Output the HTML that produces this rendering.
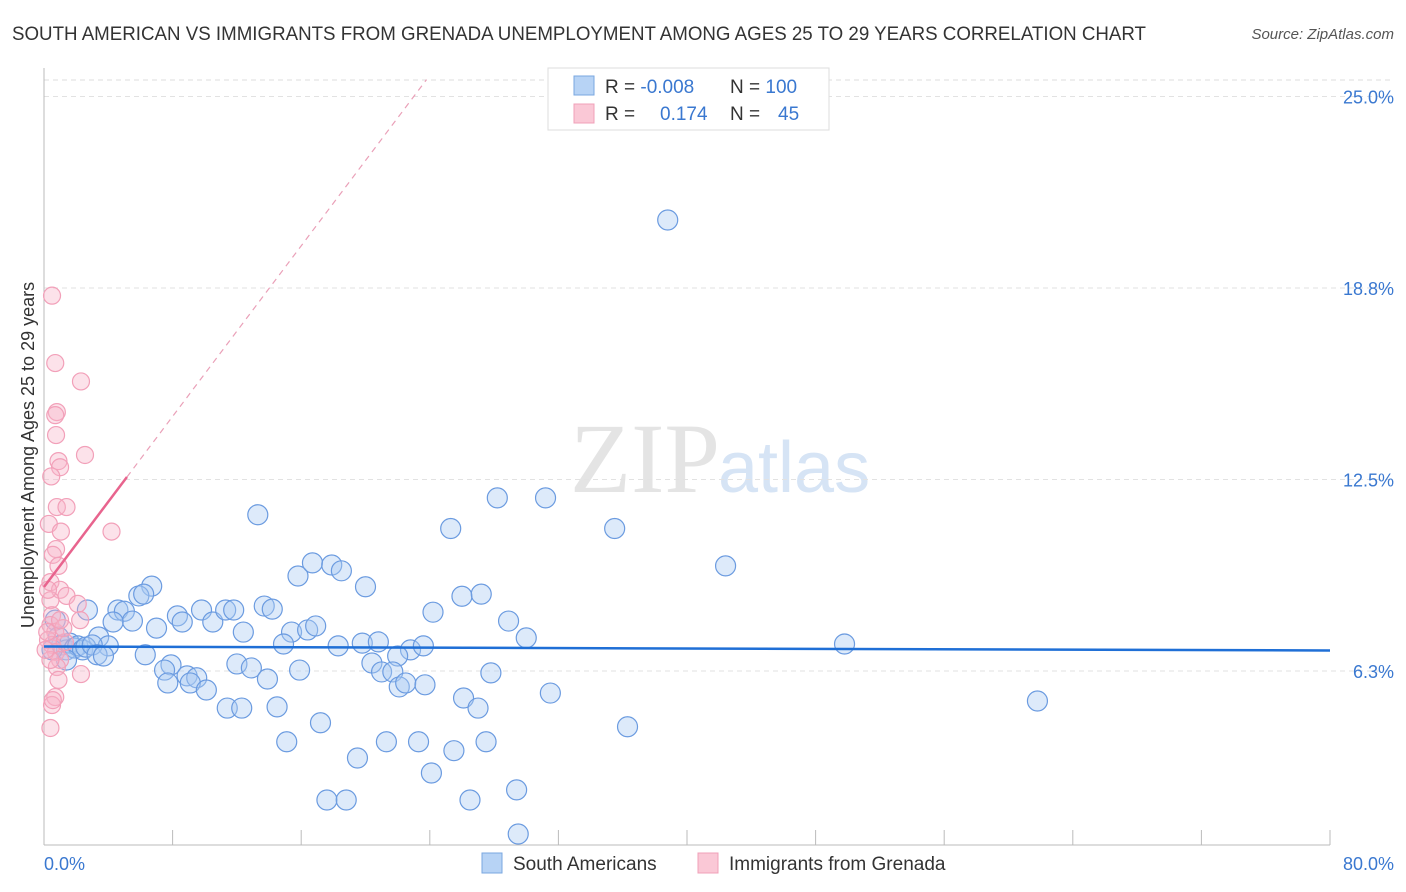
<!DOCTYPE html>
<html><head><meta charset="utf-8">
<style>
body{margin:0;background:#fff;font-family:"Liberation Sans",sans-serif;}
svg{display:block}
</style></head>
<body>
<svg id="chart" width="1406" height="892">
<text x="12" y="40" font-size="19" fill="#333" textLength="1134" lengthAdjust="spacingAndGlyphs">SOUTH AMERICAN VS IMMIGRANTS FROM GRENADA UNEMPLOYMENT AMONG AGES 25 TO 29 YEARS CORRELATION CHART</text>
<text x="1394" y="39" font-size="15" fill="#555" font-style="italic" text-anchor="end">Source: ZipAtlas.com</text>
<text x="720" y="492" font-size="100" fill="#e4e4e4" text-anchor="end" font-family="Liberation Serif">ZIP</text>
<text x="718" y="492" font-size="72" fill="#d6e4f5">atlas</text>
<g id="grid"></g>
<g id="axes"></g>
<g id="pts"></g>
<g id="trends"></g>
<text x="-455" y="34" transform="rotate(-90)" font-size="18" fill="#333" text-anchor="middle">Unemployment Among Ages 25 to 29 years</text>
<text x="44" y="870" font-size="18" fill="#3a78d0">0.0%</text>
<text x="1394" y="870" font-size="18" fill="#3a78d0" text-anchor="end">80.0%</text>
<g>
<rect x="548" y="68" width="281" height="62" fill="#fff" stroke="#ddd"/>
<rect x="574" y="76" width="20" height="19" fill="#b7d3f5" stroke="#7aa7e0"/>
<rect x="574" y="104" width="20" height="19" fill="#fac8d6" stroke="#f0a0b8"/>
<text x="605" y="93" font-size="19" fill="#333">R = <tspan fill="#3a78d0">-0.008</tspan><tspan x="730">N = </tspan><tspan fill="#3a78d0">100</tspan></text>
<text x="605" y="120" font-size="19" fill="#333">R = <tspan x="660" fill="#3a78d0">0.174</tspan><tspan x="730">N = </tspan><tspan x="778" fill="#3a78d0">45</tspan></text>
</g>
<g>
<rect x="482" y="853" width="20" height="20" fill="#b7d3f5" stroke="#7aa7e0"/>
<text x="513" y="870" font-size="19" fill="#333">South Americans</text>
<rect x="698" y="853" width="20" height="20" fill="#fac8d6" stroke="#f0a0b8"/>
<text x="729" y="870" font-size="19" fill="#333">Immigrants from Grenada</text>
</g>
</svg>
<script>
const yTicks=[25.0,18.8,12.5,6.3];
const yTickVals=[25,18.75,12.5,6.25];
const blueX=[38.8,13.3,28.2,31.2,25.3,35.5,42.4,15.8,16.7,17.9,18.5,20.0,6.7,5.9,6.2,4.6,5.0,5.5,4.3,2.7,7.0,8.3,8.6,9.8,10.5,11.3,11.8,12.4,13.7,14.2,15.4,16.4,16.9,14.9,24.2,26.0,27.2,28.9,30.0,49.8,18.3,19.8,20.8,22.8,23.6,22.0,3.4,4.0,6.3,7.9,7.5,7.7,8.9,9.5,9.1,10.1,12.0,12.9,13.9,15.9,20.4,21.0,21.7,22.1,22.5,23.7,27.8,26.1,27.0,31.5,61.8,11.4,12.3,14.5,17.2,15.1,21.3,23.3,25.5,27.5,36.3,19.5,24.1,17.6,18.8,26.5,29.4,29.5,0.7,0.9,1.1,1.4,1.6,1.9,2.1,2.4,2.6,3.0,3.3,3.7,1.4,0.5];
const blueY=[20.97,11.35,11.9,11.9,10.9,10.9,9.68,9.35,9.78,9.71,9.52,9.0,9.02,8.7,8.76,8.24,8.2,7.88,7.85,8.24,7.65,8.05,7.85,8.24,7.85,8.24,8.24,7.52,8.37,8.27,7.52,7.59,7.72,7.13,8.17,8.69,8.76,7.88,7.33,7.13,7.07,7.16,7.2,6.94,7.07,6.74,7.36,7.07,6.78,6.45,6.28,5.86,6.09,6.03,5.86,5.63,6.48,6.35,5.99,6.28,6.51,6.22,6.22,5.73,5.86,5.8,6.19,5.37,5.04,5.53,5.27,5.04,5.04,5.08,4.56,3.94,3.94,3.94,3.65,3.94,4.43,3.41,2.92,2.04,2.04,2.04,2.37,0.93,7.91,7.36,7.1,6.94,7.16,7.0,7.07,6.94,7.03,7.1,6.78,6.74,6.61,6.94];
const pinkX=[0.5,0.7,2.3,0.8,0.7,0.75,0.9,1.0,2.55,0.45,0.8,1.4,0.3,1.05,4.2,0.75,0.55,0.9,0.4,1.0,1.4,2.1,0.4,2.25,0.5,0.4,0.7,0.25,0.5,0.75,1.0,0.8,0.9,2.3,0.7,0.5,0.4,0.2,0.4,1.3,0.55,0.25,1.2,0.1,1.0];
const pinkY=[18.5,16.3,15.7,14.7,14.6,13.95,13.1,12.9,13.3,12.6,11.6,11.6,11.05,10.8,10.8,10.23,10.04,9.68,9.15,8.9,8.7,8.44,8.56,7.91,8.07,7.75,7.52,7.26,7.1,6.87,6.61,6.38,5.96,6.15,5.4,5.14,4.39,7.52,6.61,7.19,5.3,8.9,7.65,6.94,7.91];
const blueTrend=[7.05,6.92];
const pinkTrend=[8.99,0.696];
const pinkSolidEnd=5.16;

const NS="http://www.w3.org/2000/svg";
const X0=44,X1=1330,Y0=862.5,YS=30.64;
const xs=v=>X0+v*(X1-X0)/80;
const ys=v=>Y0-v*YS;
function mk(tag,attrs,parent){const e=document.createElementNS(NS,tag);for(const k in attrs)e.setAttribute(k,attrs[k]);parent.appendChild(e);return e;}
const grid=document.getElementById('grid'),axes=document.getElementById('axes'),pts=document.getElementById('pts'),tr=document.getElementById('trends');
let g=mk('line',{x1:X0,x2:1394,y1:80,y2:80,stroke:'#ddd','stroke-dasharray':'5,4'},grid);


yTickVals.forEach((v,i)=>{
  const l=mk('line',{x1:X0,x2:1394,y1:ys(v),y2:ys(v),stroke:'#e2e2e2','stroke-dasharray':'5,4'},grid);
  
  
  const t=mk('text',{x:1394,y:ys(v)+7,'font-size':18,fill:'#3a78d0','text-anchor':'end'},grid);
  t.textContent=yTicks[i].toFixed(1)+'%';
  
  
});
let a=mk('line',{x1:X0,x2:X0,y1:68,y2:845,stroke:'#bbb'},axes);


a=mk('line',{x1:X0,x2:X1,y1:845,y2:845,stroke:'#bbb'},axes);


for(let i=0;i<=10;i++){
  const t=mk('line',{x1:xs(i*8),x2:xs(i*8),y1:830,y2:845,stroke:'#bbb'},axes);
  
  
}
blueX.forEach((v,i)=>{
  const c=mk('circle',{cx:xs(v),cy:ys(blueY[i]),r:10,fill:'rgba(170,202,242,0.4)',stroke:'#6b9be0','stroke-width':1.2},pts);
  
  
});
pinkX.forEach((v,i)=>{
  const c=mk('circle',{cx:xs(v),cy:ys(pinkY[i]),r:8.5,fill:'rgba(246,180,200,0.38)',stroke:'#f2a0b9','stroke-width':1.2},pts);
  
  
});
let l=mk('line',{x1:xs(0),y1:ys(blueTrend[0]),x2:xs(80),y2:ys(blueTrend[1]),stroke:'#1f6fd6','stroke-width':2.5},tr);


const topV=(25.55-pinkTrend[0])/pinkTrend[1];
l=mk('line',{x1:xs(pinkSolidEnd),y1:ys(pinkTrend[0]+pinkTrend[1]*pinkSolidEnd),x2:xs(topV),y2:ys(pinkTrend[0]+pinkTrend[1]*topV),stroke:'#eaa0b8','stroke-width':1.2,'stroke-dasharray':'6,5'},tr);


l=mk('line',{x1:xs(0),y1:ys(pinkTrend[0]),x2:xs(pinkSolidEnd),y2:ys(pinkTrend[0]+pinkTrend[1]*pinkSolidEnd),stroke:'#e8648e','stroke-width':2.5},tr);


</script>
</body></html>
